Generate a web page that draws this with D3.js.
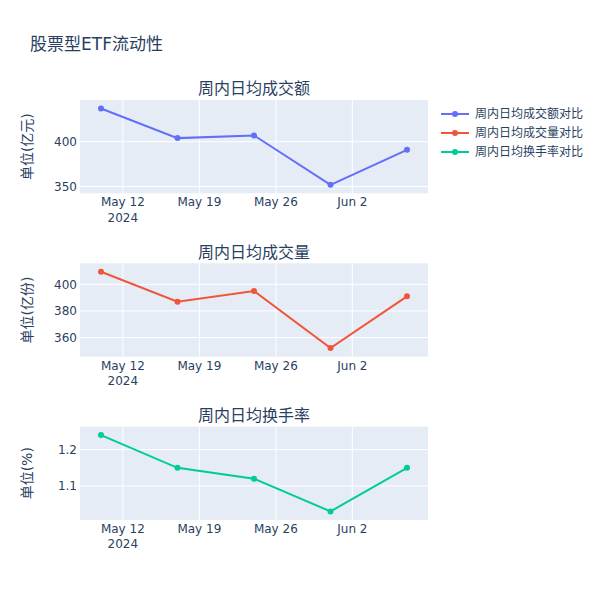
<!DOCTYPE html>
<html>
<head>
<meta charset="utf-8">
<script src="https://cdn.jsdelivr.net/npm/d3@7"></script>
<style>
  body { margin: 0; background: #fff; }
  text { font-family: "DejaVu Sans", "Noto Sans CJK SC", sans-serif; fill: #2a3f5f; }
</style>
</head>
<body>
<svg width="600" height="600"></svg>
<script>
// weekly data
const dates = ['2024-05-10', '2024-05-17', '2024-05-24', '2024-05-31', '2024-06-07'];
const amountValues = [437, 404, 407, 352, 391];      // 亿元
const volumeValues = [409.5, 387, 395, 352, 391];    // 亿份
const turnoverValues = [1.24, 1.15, 1.12, 1.03, 1.15]; // %

const seriesNames = ['周内日均成交额对比', '周内日均成交量对比', '周内日均换手率对比'];
const subplotTitles = ['周内日均成交额', '周内日均成交量', '周内日均换手率'];
const yTitles = ['单位(亿元)', '单位(亿份)', '单位(%)'];
const colors = ['#636efa', '#EF553B', '#00cc96'];
const chartTitle = '股票型ETF流动性';

const svg = d3.select('svg');
const parse = d3.timeParse('%Y-%m-%d');
const xDates = dates.map(parse);

// plot area
const left = 80, right = 428;
const rowH = 93.3, rowStep = 163.3, top0 = 100;
const pad = 8.5; // marker padding like plotly autorange

// x scale, padded a bit on both ends
const xTmp = d3.scaleTime().domain(d3.extent(xDates)).range([left + 21, right - 21]);
const x = d3.scaleTime().domain([xTmp.invert(left), xTmp.invert(right)]).range([left, right]);

svg.append('text')
  .attr('x', 30).attr('y', 50)
  .attr('font-size', 17)
  .text(chartTitle);

const allValues = [amountValues, volumeValues, turnoverValues];

allValues.forEach((vals, i) => {
  const top = top0 + i * rowStep;
  const bottom = top + rowH;
  const g = svg.append('g');

  const yTmp = d3.scaleLinear().domain(d3.extent(vals)).range([bottom - pad, top + pad]);
  const y = d3.scaleLinear().domain([yTmp.invert(bottom), yTmp.invert(top)]).range([bottom, top]);

  g.append('rect')
    .attr('x', left).attr('y', top)
    .attr('width', right - left).attr('height', rowH)
    .attr('fill', '#E5ECF6');

  // grid
  const xTicks = x.ticks(d3.timeWeek.every(1));
  g.selectAll('.vgrid').data(xTicks).enter().append('line')
    .attr('x1', d => x(d)).attr('x2', d => x(d))
    .attr('y1', top).attr('y2', bottom)
    .attr('stroke', '#fff').attr('stroke-width', 1);
  const yTicks = y.ticks(3);
  g.selectAll('.hgrid').data(yTicks).enter().append('line')
    .attr('x1', left).attr('x2', right)
    .attr('y1', d => y(d)).attr('y2', d => y(d))
    .attr('stroke', '#fff').attr('stroke-width', 1);

  // y tick labels
  g.selectAll('.ylab').data(yTicks).enter().append('text')
    .attr('x', left - 3).attr('y', d => y(d)).attr('dy', '0.35em')
    .attr('text-anchor', 'end').attr('font-size', 12)
    .text(d => d3.format('~g')(d));

  // x tick labels
  const fmt = d3.timeFormat('%b %-d');
  g.selectAll('.xlab').data(xTicks).enter().append('text')
    .attr('x', d => x(d)).attr('y', bottom + 13)
    .attr('text-anchor', 'middle').attr('font-size', 12)
    .text(d => fmt(d));
  g.append('text')
    .attr('x', x(xTicks[0])).attr('y', bottom + 28.5)
    .attr('text-anchor', 'middle').attr('font-size', 12)
    .text(d3.timeFormat('%Y')(xTicks[0]));

  // titles
  g.append('text')
    .attr('x', (left + right) / 2).attr('y', top - 5.7)
    .attr('text-anchor', 'middle').attr('font-size', 16)
    .text(subplotTitles[i]);
  g.append('text')
    .attr('transform', `translate(32,${(top + bottom) / 2}) rotate(-90)`)
    .attr('text-anchor', 'middle').attr('font-size', 14)
    .text(yTitles[i]);

  // line + markers
  const line = d3.line().x((d, j) => x(xDates[j])).y(d => y(d));
  g.append('path')
    .attr('d', line(vals))
    .attr('fill', 'none').attr('stroke', colors[i]).attr('stroke-width', 2);
  g.selectAll('.pt').data(vals).enter().append('circle')
    .attr('cx', (d, j) => x(xDates[j])).attr('cy', d => y(d))
    .attr('r', 3).attr('fill', colors[i]);
});

// legend
const legend = svg.append('g');
seriesNames.forEach((name, i) => {
  const ly = 114 + i * 19;
  legend.append('line')
    .attr('x1', 441).attr('x2', 469).attr('y1', ly).attr('y2', ly)
    .attr('stroke', colors[i]).attr('stroke-width', 2);
  legend.append('circle')
    .attr('cx', 455).attr('cy', ly).attr('r', 3).attr('fill', colors[i]);
  legend.append('text')
    .attr('x', 475).attr('y', ly).attr('dy', '0.35em')
    .attr('font-size', 12)
    .text(name);
});
</script>
</body>
</html>
